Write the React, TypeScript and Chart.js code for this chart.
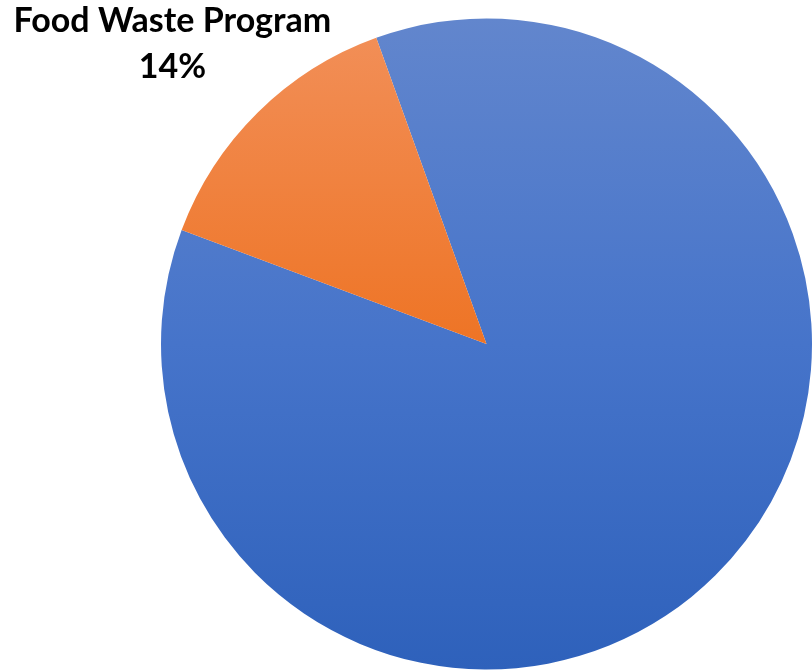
import React, { useEffect, useRef } from "react";
import { Chart, registerables } from "chart.js";

Chart.register(...registerables);

const categories = ["Other", "Food Waste Program"];
const values = [86.2, 13.8];
const valueLabels = ["86%", "14%"];

const gradientStops: string[][] = [
  ["#6286CD", "#4674CA", "#2E61BB"],
  ["#F2905A", "#EE7425", "#DE5F0C"],
];

const labelPlugin = {
  id: "foodLabel",
  afterDraw(chart: any) {
    const ctx = chart.ctx;
    const meta = chart.getDatasetMeta(0);
    const arc = meta.data[1];
    if (!arc) return;
    const { x, y, outerRadius } = arc.getProps(["x", "y", "outerRadius"], true);
    ctx.save();
    ctx.fillStyle = "#000000";
    ctx.font = "bold 34px Lato, 'Open Sans', sans-serif";
    ctx.textAlign = "center";
    ctx.textBaseline = "alphabetic";
    const lx = x - outerRadius * 0.965;
    const ly = y - outerRadius * 0.957;
    ctx.fillText(categories[1], lx, ly);
    ctx.fillText(valueLabels[1], lx, ly + 46);
    ctx.restore();
  },
};

export default function App() {
  const ref = useRef<HTMLCanvasElement>(null);
  useEffect(() => {
    if (!ref.current) return;
    const chart = new Chart(ref.current, {
      type: "pie",
      data: {
        labels: categories,
        datasets: [
          {
            data: values,
            borderWidth: 0,
            backgroundColor: (c: any) => {
              const ch = c.chart;
              const area = ch.chartArea;
              if (!area) return gradientStops[c.dataIndex][1];
              const g = ch.ctx.createLinearGradient(0, area.top, 0, area.bottom);
              const s = gradientStops[c.dataIndex];
              g.addColorStop(0, s[0]);
              g.addColorStop(0.5, s[1]);
              g.addColorStop(1, s[2]);
              return g;
            },
          },
        ],
      },
      options: {
        responsive: false,
        animation: false,
        rotation: -19.8,
        layout: { padding: { left: 161, top: 18, right: 0, bottom: 1 } },
        plugins: {
          legend: { display: false },
          tooltip: { enabled: false },
        },
      },
      plugins: [labelPlugin],
    });
    return () => chart.destroy();
  }, []);
  return (
    <div style={{ position: "fixed", left: 0, top: 0, width: 812, height: 671, background: "#fff", overflow: "hidden" }}>
      <canvas ref={ref} width={812} height={671} style={{ display: "block" }} />
    </div>
  );
}
